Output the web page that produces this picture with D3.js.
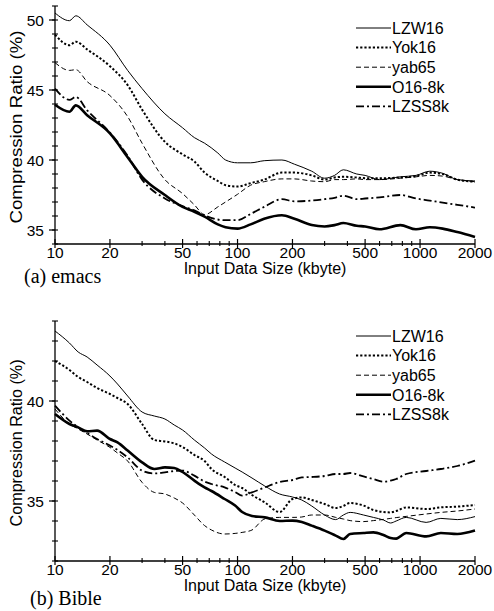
<!DOCTYPE html>
<meta charset="utf-8">
<style>
body { margin: 0; background: #fff; }
svg { display: block; }
.lbl { font-family: "Liberation Sans", Arial, sans-serif; fill: #000; }
.cap { font-family: "Liberation Serif", "Times New Roman", serif; fill: #000; }
</style>
<svg width="494" height="611"></svg>
<script src="https://d3js.org/d3.v7.min.js"></script>
<script>
'use strict';

var seriesNames = ["LZW16", "Yok16", "yab65", "O16-8k", "LZSS8k"];
var xTicks = [10, 20, 50, 100, 200, 500, 1000, 2000];
var xMinor = [30, 40, 60, 70, 80, 90, 300, 400, 600, 700, 800, 900];

// (a) emacs
var sizesA = [10, 12, 13, 15, 20, 25, 30, 40, 50, 58, 66, 78, 86, 100, 118, 140, 175, 205, 255, 300, 340, 380, 450, 500, 600, 780, 950, 1130, 1330, 1600, 2000];
var lzw16A = [50.5, 49.95, 50.3, 49.65, 48.2, 46.4, 45.1, 43.3, 42.3, 41.6, 41.2, 40.5, 40.0, 39.8, 39.8, 39.95, 40.0, 39.7, 39.2, 38.7, 38.9, 39.3, 39.0, 38.9, 38.6, 38.8, 38.9, 39.2, 39.05, 38.6, 38.5];
var yok16A = [48.95, 48.2, 48.45, 47.9, 46.7, 45.35, 43.6, 41.3, 40.4, 39.9, 39.1, 38.5, 38.2, 38.1, 38.35, 38.6, 39.1, 39.1, 38.9, 38.6, 38.75, 38.8, 38.75, 38.7, 38.7, 38.75, 38.85, 39.1, 39.0, 38.6, 38.45];
var yab65A = [46.95, 46.4, 46.45, 45.6, 44.6, 43.1, 41.2, 38.6, 37.6, 36.8, 36.1, 36.65, 37.0, 37.55, 38.2, 38.45, 38.65, 38.65, 38.5, 38.45, 38.6, 38.6, 38.65, 38.6, 38.6, 38.7, 38.8, 38.9, 38.85, 38.6, 38.45];
var o168kA = [43.95, 43.45, 43.9, 43.2, 41.9, 40.2, 38.8, 37.5, 36.65, 36.3, 35.95, 35.4, 35.2, 35.1, 35.4, 35.8, 36.05, 35.8, 35.35, 35.25, 35.35, 35.5, 35.3, 35.25, 35.05, 35.35, 35.05, 35.2, 35.1, 34.85, 34.5];
var lzss8kA = [45.1, 44.3, 44.5, 43.55, 41.95, 40.3, 38.6, 37.25, 36.7, 36.4, 36.05, 35.75, 35.7, 35.7, 36.15, 36.65, 37.2, 37.05, 37.1, 37.2, 37.3, 37.45, 37.2, 37.25, 37.33, 37.5, 37.25, 37.1, 36.95, 36.8, 36.6];
var yTicksA = [35, 40, 45, 50];

// (b) Bible
var sizesB = [10, 12, 13.4, 15, 17, 20, 22, 25, 30, 35, 40, 45, 50, 58, 66, 72, 85, 97, 106, 120, 141, 170, 200, 225, 255, 300, 345, 380, 414, 490, 555, 630, 690, 740, 840, 1080, 1300, 1600, 2000];
var lzw16B = [43.5, 42.9, 42.45, 42.2, 41.8, 41.25, 40.85, 40.25, 39.45, 39.25, 39.1, 38.8, 38.55, 38.05, 37.65, 37.35, 36.95, 36.65, 36.45, 36.15, 35.75, 35.35, 35.2, 35.05, 34.75, 34.3, 34.07, 34.3, 34.43, 34.3, 34.18, 34.05, 33.9, 34.0, 34.18, 33.93, 34.13, 34.07, 34.22];
var yok16B = [42.0, 41.55, 41.2, 40.95, 40.65, 40.35, 40.15, 39.85, 38.85, 38.05, 37.98, 37.88, 37.7, 37.3, 37.0, 36.6, 36.2, 35.8, 35.65, 35.3, 34.93, 34.45, 35.1, 35.18, 35.05, 34.85, 34.65, 34.75, 34.9, 34.77, 34.55, 34.45, 34.43, 34.5, 34.68, 34.6, 34.68, 34.72, 34.8];
var yab65B = [39.6, 38.85, 38.6, 38.35, 38.05, 37.68, 37.4, 37.0, 35.93, 35.43, 35.35, 35.15, 34.9, 34.3, 33.77, 33.55, 33.35, 33.38, 33.43, 33.55, 34.1, 34.18, 34.18, 34.2, 34.3, 34.3, 34.18, 34.1, 34.02, 33.97, 34.02, 34.08, 34.13, 34.17, 34.23, 34.35, 34.43, 34.5, 34.6];
var o168kB = [39.35, 38.85, 38.68, 38.48, 38.52, 38.1, 37.93, 37.52, 36.93, 36.6, 36.68, 36.65, 36.45, 36.02, 35.68, 35.5, 35.1, 34.77, 34.45, 34.25, 34.18, 34.0, 34.02, 33.95, 33.77, 33.52, 33.27, 33.1, 33.35, 33.4, 33.43, 33.3, 33.15, 33.12, 33.4, 33.23, 33.4, 33.35, 33.52];
var lzss8kB = [39.77, 39.02, 38.68, 38.4, 38.1, 37.77, 37.55, 37.18, 36.52, 36.38, 36.43, 36.5, 36.52, 36.27, 35.97, 35.85, 35.68, 35.45, 35.27, 35.43, 35.68, 35.95, 36.05, 36.18, 36.2, 36.25, 36.35, 36.35, 36.4, 36.23, 36.1, 35.97, 36.02, 36.1, 36.35, 36.5, 36.6, 36.75, 37.02];
var yTicksB = [35, 40];

// line look per series
var styles = [
  {width: 1.0, dash: null},
  {width: 2.0, dash: "2.2,2"},
  {width: 1.0, dash: "5,3"},
  {width: 2.6, dash: null},
  {width: 1.8, dash: "8,3,2,3"}
];

var panels = [
  {caption: "(a) emacs", sizes: sizesA, series: [lzw16A, yok16A, yab65A, o168kA, lzss8kA],
   yDomain: [34, 51], yTicks: yTicksA, top: 6, bottom: 244, legendY: 28, ylabLen: 193, capX: 24, capY: 283},
  {caption: "(b) Bible", sizes: sizesB, series: [lzw16B, yok16B, yab65B, o168kB, lzss8kB],
   yDomain: [32, 44], yTicks: yTicksB, top: 321, bottom: 561, legendY: 336, ylabLen: 167, capX: 30, capY: 605}
];

var svg = d3.select("svg");
var left = 55, right = 475;

panels.forEach(function(p) {
  var x = d3.scaleLog().domain([10, 2000]).range([left, right]);
  var y = d3.scaleLinear().domain(p.yDomain).range([p.bottom, p.top]);
  var g = svg.append("g");

  // axes lines
  g.append("line").attr("x1", left).attr("x2", left).attr("y1", p.top).attr("y2", p.bottom)
    .attr("stroke", "#000").attr("stroke-width", 1.3);
  g.append("line").attr("x1", left).attr("x2", right).attr("y1", p.bottom).attr("y2", p.bottom)
    .attr("stroke", "#000").attr("stroke-width", 1.3);

  // y ticks
  var yMinor = d3.range(p.yDomain[0], p.yDomain[1] + 1);
  g.selectAll(".ymin").data(yMinor).enter().append("line")
    .attr("x1", left - 3).attr("x2", left + 3)
    .attr("y1", function(d) { return y(d); }).attr("y2", function(d) { return y(d); })
    .attr("stroke", "#000").attr("stroke-width", 1.1);
  g.selectAll(".ymaj").data(p.yTicks).enter().append("line")
    .attr("x1", left - 6).attr("x2", left)
    .attr("y1", function(d) { return y(d); }).attr("y2", function(d) { return y(d); })
    .attr("stroke", "#000").attr("stroke-width", 1.2);
  g.selectAll(".ytl").data(p.yTicks).enter().append("text")
    .attr("class", "lbl")
    .attr("x", 44).attr("y", function(d) { return y(d); })
    .attr("dy", "0.36em").attr("text-anchor", "end")
    .attr("font-size", 15.5)
    .text(function(d) { return d; });

  // x ticks
  g.selectAll(".xmin").data(xMinor).enter().append("line")
    .attr("x1", function(d) { return x(d); }).attr("x2", function(d) { return x(d); })
    .attr("y1", p.bottom - 3).attr("y2", p.bottom + 2)
    .attr("stroke", "#000").attr("stroke-width", 1.1);
  g.selectAll(".xmaj").data(xTicks).enter().append("line")
    .attr("x1", function(d) { return x(d); }).attr("x2", function(d) { return x(d); })
    .attr("y1", p.bottom - 5).attr("y2", p.bottom + 4)
    .attr("stroke", "#000").attr("stroke-width", 1.2);
  g.selectAll(".xtl").data(xTicks).enter().append("text")
    .attr("class", "lbl")
    .attr("x", function(d) { return x(d); }).attr("y", p.bottom + 14)
    .attr("text-anchor", "middle")
    .attr("font-size", 15.5)
    .text(function(d) { return d; });

  // axis titles
  g.append("text").attr("class", "lbl")
    .attr("x", 265).attr("y", p.bottom + 30)
    .attr("text-anchor", "middle").attr("font-size", 16)
    .text("Input Data Size (kbyte)");
  g.append("text").attr("class", "lbl")
    .attr("transform", "translate(22," + ((p.top + p.bottom) / 2 + 2) + ") rotate(-90)")
    .attr("text-anchor", "middle").attr("font-size", 16)
    .attr("textLength", p.ylabLen).attr("lengthAdjust", "spacingAndGlyphs")
    .text("Compression Ratio (%)");
  g.append("text").attr("class", "cap")
    .attr("x", p.capX).attr("y", p.capY)
    .attr("font-size", 20)
    .text(p.caption);

  // curves
  var line = d3.line()
    .x(function(d) { return x(d[0]); })
    .y(function(d) { return y(d[1]); })
    .curve(d3.curveMonotoneX);

  p.series.forEach(function(vals, i) {
    var pts = p.sizes.map(function(s, j) { return [s, vals[j]]; });
    g.append("path").datum(pts)
      .attr("d", line)
      .attr("fill", "none")
      .attr("stroke", "#000")
      .attr("stroke-width", styles[i].width)
      .attr("stroke-dasharray", styles[i].dash);
  });

  // legend
  var leg = g.selectAll(".leg").data(seriesNames).enter().append("g")
    .attr("transform", function(d, i) { return "translate(356," + (p.legendY + i * 19.6) + ")"; });
  leg.append("line")
    .attr("x1", 0).attr("x2", 35).attr("y1", 0).attr("y2", 0)
    .attr("stroke", "#000")
    .attr("stroke-width", function(d, i) { return styles[i].width; })
    .attr("stroke-dasharray", function(d, i) { return styles[i].dash; });
  leg.append("text").attr("class", "lbl")
    .attr("x", 36).attr("dy", "0.36em")
    .attr("font-size", 16)
    .text(function(d) { return d; });
});
</script>
